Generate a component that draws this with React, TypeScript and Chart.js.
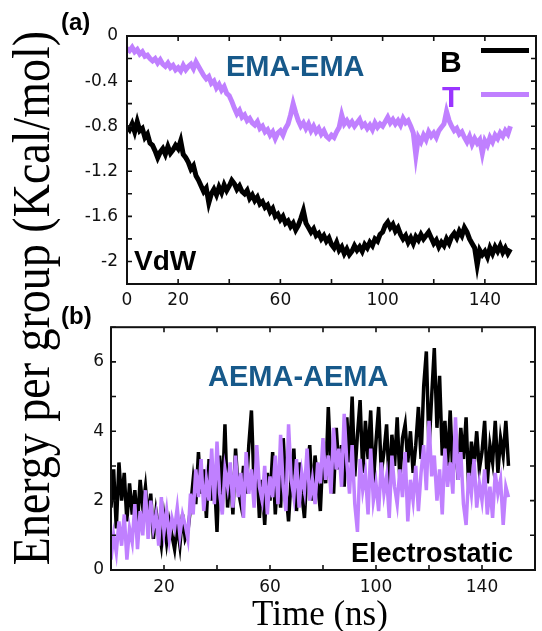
import React, { useEffect, useRef } from 'react';
import { Chart, registerables } from 'chart.js';

Chart.register(...registerables);

// sampling grid (ns)
const TIME_NS: number[] = Array.from({ length: 151 }, (_, i) => i);

// (a) VdW, EMA-EMA
const VDW_B = [
  -0.80, -0.83, -0.78, -0.85, -0.76, -0.84, -0.82, -0.90, -0.87, -0.95,
  -0.97, -1.02, -1.08, -1.03, -1.00, -1.05, -0.98, -1.04, -1.01, -0.97,
  -1.00, -0.93, -1.05, -1.08, -1.12, -1.18, -1.15, -1.24, -1.28, -1.33,
  -1.38, -1.35, -1.48, -1.40, -1.36, -1.41, -1.34, -1.39, -1.32, -1.37,
  -1.33, -1.28, -1.31, -1.36, -1.33, -1.38, -1.40, -1.37, -1.44, -1.41,
  -1.46, -1.43, -1.49, -1.47, -1.52, -1.50, -1.56, -1.53, -1.60, -1.58,
  -1.63, -1.60, -1.66, -1.64, -1.69, -1.66, -1.72, -1.68, -1.62, -1.55,
  -1.66, -1.70, -1.74, -1.71, -1.77, -1.75, -1.80, -1.77, -1.82, -1.79,
  -1.85, -1.88, -1.83, -1.90, -1.87, -1.93, -1.89, -1.94, -1.91, -1.86,
  -1.90, -1.87, -1.91, -1.85, -1.88, -1.83, -1.86, -1.80, -1.82, -1.76,
  -1.74, -1.68, -1.65, -1.70, -1.67, -1.73, -1.70, -1.76, -1.80, -1.77,
  -1.83, -1.79, -1.84, -1.78, -1.81, -1.76, -1.80, -1.77, -1.74, -1.79,
  -1.84, -1.81, -1.87, -1.83, -1.86, -1.80, -1.84, -1.78, -1.75, -1.79,
  -1.73, -1.77, -1.70, -1.74, -1.80, -1.84, -1.88, -2.03, -1.90, -1.94,
  -1.91, -1.96, -1.88, -1.93, -1.87, -1.91, -1.86, -1.92, -1.88, -1.93, -1.89,
];

const VDW_T = [
  -0.11, -0.13, -0.10, -0.14, -0.12, -0.16, -0.14, -0.18, -0.17, -0.20,
  -0.22, -0.20, -0.24, -0.21, -0.25, -0.27, -0.24, -0.28, -0.26, -0.30,
  -0.28, -0.31, -0.26, -0.30, -0.27, -0.25, -0.29, -0.23, -0.27, -0.31,
  -0.35, -0.38, -0.36, -0.42, -0.40, -0.46, -0.43, -0.48, -0.45, -0.51,
  -0.53, -0.58, -0.64, -0.69, -0.66, -0.72, -0.70, -0.75, -0.73, -0.77,
  -0.79, -0.76, -0.82, -0.80, -0.85, -0.83, -0.88, -0.85, -0.91, -0.86,
  -0.84, -0.88, -0.82, -0.78, -0.70, -0.60, -0.68, -0.75, -0.80, -0.77,
  -0.82, -0.78, -0.84, -0.80, -0.85, -0.82, -0.87, -0.84, -0.89, -0.91,
  -0.88, -0.90, -0.85, -0.81, -0.70, -0.78, -0.75, -0.79, -0.76, -0.80,
  -0.77, -0.74, -0.80, -0.78, -0.82, -0.79, -0.83, -0.77, -0.81, -0.78,
  -0.80, -0.76, -0.72, -0.77, -0.74, -0.78, -0.75, -0.79, -0.73, -0.77,
  -0.75, -0.80, -0.86, -1.06, -0.90, -0.94, -0.88, -0.92, -0.85, -0.89,
  -0.86, -0.90, -0.84, -0.81, -0.78, -0.67, -0.75, -0.80, -0.84, -0.82,
  -0.87, -0.85, -0.90, -0.94, -0.89, -0.96, -0.91, -0.95, -0.92, -1.04,
  -0.93, -0.97, -0.90, -0.94, -0.88, -0.91, -0.86, -0.89, -0.84, -0.87, -0.80,
];

// (b) Electrostatic, AEMA-AEMA
const ELEC_B = [
  1.8, 2.9, 1.2, 3.1, 2.0, 2.8, 1.4, 2.5, 1.6, 2.3,
  1.3, 2.6, 1.8, 2.4, 1.5, 2.2, 0.9, 1.7, 1.2, 0.7,
  1.5, 0.8, 1.4, 1.0, 0.6, 1.3, 0.7, 1.6, 0.9, 1.1,
  1.8, 2.6, 1.9, 3.4, 2.2, 2.9, 1.5, 3.2, 2.0, 2.7,
  1.1, 3.3, 2.1, 4.2, 1.8, 2.9, 1.6, 3.5, 2.3, 1.9,
  3.0, 2.2, 3.6, 4.6, 2.4, 3.1, 1.5, 2.6, 1.3, 2.8,
  2.0, 3.4, 1.6, 2.9, 1.8, 3.8, 2.3, 1.4, 2.7, 3.5,
  1.7, 3.1, 2.2, 1.5, 2.9, 3.6, 2.0, 3.3, 2.5, 1.7,
  3.4, 2.5, 4.7, 3.0, 2.2, 4.1, 2.9, 3.6, 2.4, 4.4,
  3.1, 5.0, 2.7, 3.9, 4.9, 2.8, 4.3, 3.2, 4.6, 2.5,
  3.7, 4.7, 2.8, 3.4, 4.2, 2.4, 3.9, 3.0, 4.4, 2.6,
  3.8, 4.2, 3.1, 4.0, 2.8, 3.6, 4.7, 3.2, 5.3, 6.3,
  3.5, 5.0, 6.4, 4.1, 5.6, 3.3, 4.3, 3.0, 4.6, 2.7,
  3.8, 2.6, 4.1, 3.2, 4.4, 2.3, 3.7, 3.0, 4.0, 2.9,
  3.4, 4.3, 2.5, 3.6, 3.1, 4.3, 2.8, 3.8, 3.3, 4.3, 3.0,
];

const ELEC_T = [
  0.3, 1.0, 0.5, 1.4, 0.7, 1.6, 0.3, 1.2, 0.8, 1.9,
  0.6, 1.7, 1.0, 2.3, 0.9, 2.0, 1.2, 1.6, 0.7, 2.1,
  1.1, 1.7, 0.9, 1.5, 1.2, 1.8, 1.0, 1.6, 1.3, 0.9,
  2.2, 1.6, 2.9, 2.1, 3.2, 1.7, 2.6, 2.0, 3.5, 1.9,
  3.7, 2.2, 1.6, 2.9, 2.4, 3.1, 1.8, 3.3, 2.1, 2.8,
  1.5, 3.4, 2.2, 2.9, 1.8, 3.6, 2.4, 2.0, 3.0, 1.6,
  2.7, 2.1, 3.3, 1.9, 3.9, 2.4, 1.7, 4.2, 2.6, 2.1,
  3.2, 1.8, 2.8, 2.3, 3.5, 2.0, 2.6, 1.9, 3.1, 2.5,
  3.8, 2.6, 3.3, 2.2, 4.1, 2.9, 3.5, 2.4, 4.5, 3.1,
  2.2, 3.6, 1.9, 1.1, 3.2, 2.3, 2.8, 1.6, 3.5, 2.0,
  2.5, 1.7, 3.1, 2.2, 2.7, 1.5, 3.3, 2.4, 1.9, 2.9,
  2.1, 3.4, 1.4, 2.6, 2.0, 3.0, 1.7, 2.8, 3.6, 2.3,
  4.3, 2.7, 3.3, 2.0, 2.9, 1.6, 3.5, 2.4, 3.1, 2.2,
  4.4, 2.6, 3.4, 1.9, 1.3, 2.8, 2.2, 3.2, 1.8, 2.5,
  2.0, 2.9, 1.6, 2.4, 1.5, 2.8, 2.2, 2.6, 1.3, 2.4, 2.1,
];

const TOP_X_LABELS = [0, 20, 60, 100, 140];
const TOP_Y_LABELS = [0, -0.4, -0.8, -1.2, -1.6, -2];
const BOT_X_LABELS = [20, 60, 100, 140];
const BOT_Y_LABELS = [0, 2, 4, 6];

const COLOR_B = '#000000';
const COLOR_T = '#c080ff';
const COLOR_T_TEXT = '#9a35ff';
const COLOR_TITLE = '#17598a';

const TICK_FONT = { family: '"DejaVu Sans", sans-serif', size: 17 };

const pick = (labels: number[]) => (v: number | string) => {
  const n = Number(v);
  const hit = labels.find((l) => Math.abs(l - n) < 1e-6);
  return hit === undefined ? '' : String(hit);
};

const framePlugin = {
  id: 'frameTicks',
  afterDatasetsDraw(chart: any) {
    const { ctx, chartArea: a, scales } = chart;
    const len = 5;
    ctx.save();
    ctx.strokeStyle = '#111';
    ctx.lineWidth = 1.6;
    ctx.beginPath();
    scales.x.ticks.forEach((t: any) => {
      const px = scales.x.getPixelForValue(t.value);
      ctx.moveTo(px, a.bottom);
      ctx.lineTo(px, a.bottom - len);
      ctx.moveTo(px, a.top);
      ctx.lineTo(px, a.top + len);
    });
    scales.y.ticks.forEach((t: any) => {
      const py = scales.y.getPixelForValue(t.value);
      ctx.moveTo(a.left, py);
      ctx.lineTo(a.left + len, py);
      ctx.moveTo(a.right, py);
      ctx.lineTo(a.right - len, py);
    });
    ctx.stroke();
    ctx.lineWidth = 2;
    ctx.strokeRect(a.left, a.top, a.right - a.left, a.bottom - a.top);
    ctx.restore();
  },
};

function makeConfig(opts: {
  series: { data: number[]; color: string }[];
  xLabels: number[];
  yLabels: number[];
  yMin: number;
  yMax: number;
  yStep: number;
  yWidth: number;
  xHeight: number;
  padTop: number;
  lineWidth: number;
  yPad: number;
  xPad: number;
}): any {
  return {
    type: 'line',
    data: {
      datasets: opts.series.map((s) => ({
        data: TIME_NS.map((t, i) => ({ x: t, y: s.data[i] })),
        borderColor: s.color,
        backgroundColor: s.color,
        borderWidth: opts.lineWidth,
        borderJoinStyle: 'miter',
        pointRadius: 0,
        tension: 0,
        fill: false,
      })),
    },
    options: {
      responsive: false,
      animation: false,
      events: [],
      layout: { padding: { top: opts.padTop, right: 2, left: 0, bottom: 0 } },
      plugins: { legend: { display: false }, tooltip: { enabled: false }, title: { display: false } },
      scales: {
        x: {
          type: 'linear',
          min: 0,
          max: 160,
          grid: { display: false, drawTicks: false },
          border: { display: false },
          ticks: {
            stepSize: 20,
            autoSkip: false,
            maxRotation: 0,
            padding: opts.xPad,
            color: '#111',
            font: TICK_FONT,
            callback: pick(opts.xLabels),
          },
          afterFit: (s: any) => {
            s.height = opts.xHeight;
          },
        },
        y: {
          type: 'linear',
          min: opts.yMin,
          max: opts.yMax,
          grid: { display: false, drawTicks: false },
          border: { display: false },
          ticks: {
            stepSize: opts.yStep,
            autoSkip: false,
            padding: opts.yPad,
            color: '#111',
            font: TICK_FONT,
            callback: pick(opts.yLabels),
          },
          afterFit: (s: any) => {
            s.width = opts.yWidth;
          },
        },
      },
    },
    plugins: [framePlugin],
  };
}

const abs = (o: React.CSSProperties): React.CSSProperties => ({ position: 'absolute', whiteSpace: 'nowrap', lineHeight: 1, margin: 0, ...o });
const SANS = '"Liberation Sans", Arial, Helvetica, sans-serif';
const SERIF = '"Liberation Serif", "Times New Roman", serif';

export default function App() {
  const topRef = useRef<HTMLCanvasElement>(null);
  const botRef = useRef<HTMLCanvasElement>(null);

  useEffect(() => {
    const top = new Chart(
      topRef.current!,
      makeConfig({
        series: [
          { data: VDW_B, color: COLOR_B },
          { data: VDW_T, color: COLOR_T },
        ],
        xLabels: TOP_X_LABELS,
        yLabels: TOP_Y_LABELS,
        yMin: -2.2,
        yMax: 0,
        yStep: 0.2,
        yWidth: 127,
        xHeight: 26,
        padTop: 36,
        lineWidth: 5,
        yPad: 9,
        xPad: 6,
      })
    );
    const bot = new Chart(
      botRef.current!,
      makeConfig({
        series: [
          { data: ELEC_T, color: COLOR_T },
          { data: ELEC_B, color: COLOR_B },
        ],
        xLabels: BOT_X_LABELS,
        yLabels: BOT_Y_LABELS,
        yMin: 0,
        yMax: 7,
        yStep: 1,
        yWidth: 111,
        xHeight: 61,
        padTop: 10,
        lineWidth: 3.5,
        yPad: 7,
        xPad: 7,
      })
    );
    return () => {
      top.destroy();
      bot.destroy();
    };
  }, []);

  return (
    <div style={{ position: 'fixed', left: 0, top: 0, width: 542, height: 631, background: '#fff', overflow: 'hidden' }}>
      <canvas ref={topRef} width={542} height={310} style={{ position: 'absolute', left: 0, top: 0, width: 542, height: 310 }} />
      <canvas ref={botRef} width={542} height={321} style={{ position: 'absolute', left: 0, top: 310, width: 542, height: 321 }} />

      {/* panel labels */}
      <div style={abs({ left: 61, top: 8, font: `bold 24px ${SANS}`, color: '#000' })}>(a)</div>
      <div style={abs({ left: 61, top: 302, font: `bold 24px ${SANS}`, color: '#000' })}>(b)</div>

      {/* inner titles */}
      <div style={abs({ left: 226, top: 50, font: `bold 29px ${SANS}`, color: COLOR_TITLE })}>EMA-EMA</div>
      <div style={abs({ left: 208, top: 360, font: `bold 29px ${SANS}`, color: COLOR_TITLE })}>AEMA-AEMA</div>
      <div style={abs({ left: 134, top: 245, font: `bold 28px ${SANS}`, color: '#000' })}>VdW</div>
      <div style={abs({ left: 351, top: 538, font: `bold 27px ${SANS}`, color: '#000' })}>Electrostatic</div>

      {/* legend */}
      <div style={abs({ left: 440, top: 45, font: `bold 30px ${SANS}`, color: '#000' })}>B</div>
      <div style={abs({ left: 442, top: 80, font: `bold 30px ${SANS}`, color: COLOR_T_TEXT })}>T</div>
      <div style={abs({ left: 481, top: 47.5, width: 48, height: 5, background: COLOR_B })} />
      <div style={abs({ left: 481, top: 91.5, width: 48, height: 5, background: COLOR_T })} />

      {/* axis titles */}
      <div style={{ position: 'absolute', left: 31, top: 298, width: 0, height: 0 }}>
        <div
          style={{
            position: 'absolute',
            left: 0,
            top: 0,
            whiteSpace: 'nowrap',
            lineHeight: 1,
            font: `46px ${SERIF}`,
            color: '#000',
            transform: 'translate(-50%, -50%) rotate(-90deg) scaleY(1.15)',
          }}
        >
          Energy per group (Kcal/mol)
        </div>
      </div>
      <div style={abs({ left: 120, top: 594, width: 400, textAlign: 'center', font: `35px ${SERIF}`, color: '#000' })}>Time (ns)</div>
    </div>
  );
}
